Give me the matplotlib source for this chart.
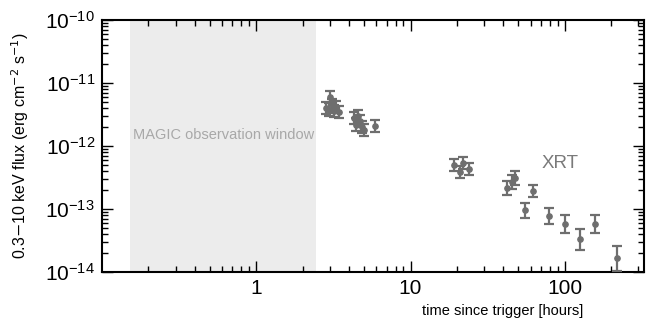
import matplotlib
matplotlib.use("Agg")
import matplotlib.pyplot as plt
from matplotlib.ticker import LogLocator, FixedLocator, FixedFormatter, NullFormatter, LogFormatterSciNotation
import numpy as np

plt.rcParams['font.family'] = ['Liberation Sans', 'DejaVu Sans']

# XRT light curve (time in hours, flux in erg cm^-2 s^-1)
time_h = [2.85, 2.95, 3.0, 3.1, 3.2, 3.3, 3.45,
          4.3, 4.45, 4.6, 4.7, 4.85, 5.0, 5.9,
          19.1, 20.9, 21.9, 23.9,
          42.2, 45.4, 47.5, 55.1, 62.1, 78.8, 100.0, 126.0, 158.0, 217.0]
flux = [4.0e-12, 3.8e-12, 6.0e-12, 4.5e-12, 3.6e-12, 4.2e-12, 3.5e-12,
        2.8e-12, 2.2e-12, 3.0e-12, 2.5e-12, 2.0e-12, 1.8e-12, 2.1e-12,
        5.0e-13, 3.9e-13, 5.4e-13, 4.3e-13,
        2.15e-13, 2.7e-13, 3.1e-13, 9.6e-14, 1.93e-13, 7.8e-14, 5.8e-14, 3.3e-14, 5.8e-14, 1.66e-14]
# error bar half-widths in dex
err_dex = [0.10, 0.10, 0.10, 0.10, 0.10, 0.10, 0.10,
           0.10, 0.10, 0.10, 0.10, 0.10, 0.10, 0.10,
           0.10, 0.10, 0.10, 0.10,
           0.11, 0.11, 0.11, 0.12, 0.10, 0.13, 0.14, 0.17, 0.14, 0.20]

magic_window = (0.153, 2.44)
xlim = (0.1, 325)
ylim = (1e-14, 1e-10)
x_ticks = [1, 10, 100]
x_ticklabels = ['1', '10', '100']
y_ticks = [1e-14, 1e-13, 1e-12, 1e-11, 1e-10]

fig = plt.figure(figsize=(6.49, 3.25), dpi=100)
ax = fig.add_axes([0.157, 0.163, 0.835, 0.775])

ax.axvspan(magic_window[0], magic_window[1], color='#ececec', lw=0, zorder=0)
ax.text(np.sqrt(magic_window[0] * magic_window[1]), 1.5e-12, 'MAGIC observation window',
        ha='center', va='center', color='#a8a8a8', fontsize=10.5)

f = np.array(flux)
e = np.array(err_dex)
lo = f - f / 10**e
hi = f * 10**e - f
ax.errorbar(time_h, f, yerr=[lo, hi], fmt='o', color='#6e6e6e', ms=3.8,
            elinewidth=1.6, capsize=3.6, capthick=1.6, zorder=3, clip_on=True)

ax.text(93, 5.3e-13, 'XRT', color='#7a7a7a', fontsize=13.5, ha='center', va='center')

ax.set_xscale('log')
ax.set_yscale('log')
ax.set_xlim(*xlim)
ax.set_ylim(*ylim)

ax.xaxis.set_major_locator(FixedLocator(x_ticks))
ax.xaxis.set_major_formatter(FixedFormatter(x_ticklabels))
ax.xaxis.set_minor_locator(LogLocator(base=10, subs=np.arange(2, 10), numticks=20))
ax.xaxis.set_minor_formatter(NullFormatter())
ax.yaxis.set_major_locator(FixedLocator(y_ticks))
ax.yaxis.set_major_formatter(LogFormatterSciNotation())
ax.yaxis.set_minor_locator(LogLocator(base=10, subs=np.arange(2, 10), numticks=20))
ax.yaxis.set_minor_formatter(NullFormatter())

ax.tick_params(which='both', direction='in', top=True, right=True, width=1.0, colors='black')
ax.tick_params(which='major', length=8, labelsize=15, pad=5)
ax.tick_params(which='minor', length=4)
for s in ax.spines.values():
    s.set_linewidth(1.5)

ax.set_ylabel('0.3$-$10 keV flux (erg cm$^{-2}$ s$^{-1}$)', fontsize=11.5)
ax.yaxis.set_label_coords(-0.13, 0.5)
ax.set_xlabel('time since trigger [hours]', fontsize=10.5)
ax.xaxis.set_label_coords(0.74, -0.125)

fig.savefig('out.png', dpi=100)
